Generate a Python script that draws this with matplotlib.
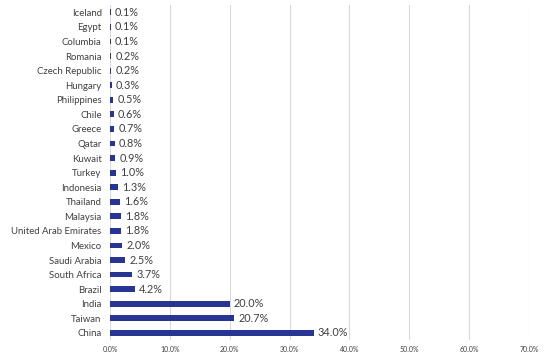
import matplotlib.pyplot as plt
import numpy as np
from matplotlib.ticker import FuncFormatter

plt.rcParams['font.family'] = ['Lato', 'DejaVu Sans']

# 資料（由上到下）
countries = ['Iceland', 'Egypt', 'Columbia', 'Romania', 'Czech Republic', 'Hungary',
             'Philippines', 'Chile', 'Greece', 'Qatar', 'Kuwait', 'Turkey', 'Indonesia',
             'Thailand', 'Malaysia', 'United Arab Emirates', 'Mexico', 'Saudi Arabia',
             'South Africa', 'Brazil', 'India', 'Taiwan', 'China']
weights = [0.1, 0.1, 0.1, 0.2, 0.2, 0.3, 0.5, 0.6, 0.7, 0.8, 0.9, 1.0, 1.3,
           1.6, 1.8, 1.8, 2.0, 2.5, 3.7, 4.2, 20.0, 20.7, 34.0]
x_ticks = [0, 10, 20, 30, 40, 50, 60, 70]

bar_color = '#283593'
text_color = '#404040'

fig = plt.figure(figsize=(5.5, 3.63), dpi=100)
ax = fig.add_axes([0.2, 0.063, 0.762, 0.923])

y = np.arange(len(countries))[::-1]
ax.barh(y, weights, height=0.4, color=bar_color, zorder=3)

for yi, w in zip(y, weights):
    ax.text(w + 0.7, yi, f'{w:.1f}%', va='center', ha='left',
            fontsize=7.8, color=text_color)

ax.set_xlim(0, 70)
ax.set_ylim(-0.5, len(countries) - 0.5)
ax.set_xticks(x_ticks)
ax.xaxis.set_major_formatter(FuncFormatter(lambda v, p: f'{v:.1f}%'))
ax.set_yticks(y)
ax.set_yticklabels(countries)
ax.tick_params(axis='y', length=0, pad=6, labelsize=6.9, labelcolor=text_color)
ax.tick_params(axis='x', length=0, pad=4, labelsize=5.0, labelcolor=text_color)

ax.grid(axis='x', color='#d9d9d9', linewidth=0.8, zorder=0)
for s in ax.spines.values():
    s.set_visible(False)

plt.savefig('out.png', dpi=100)
